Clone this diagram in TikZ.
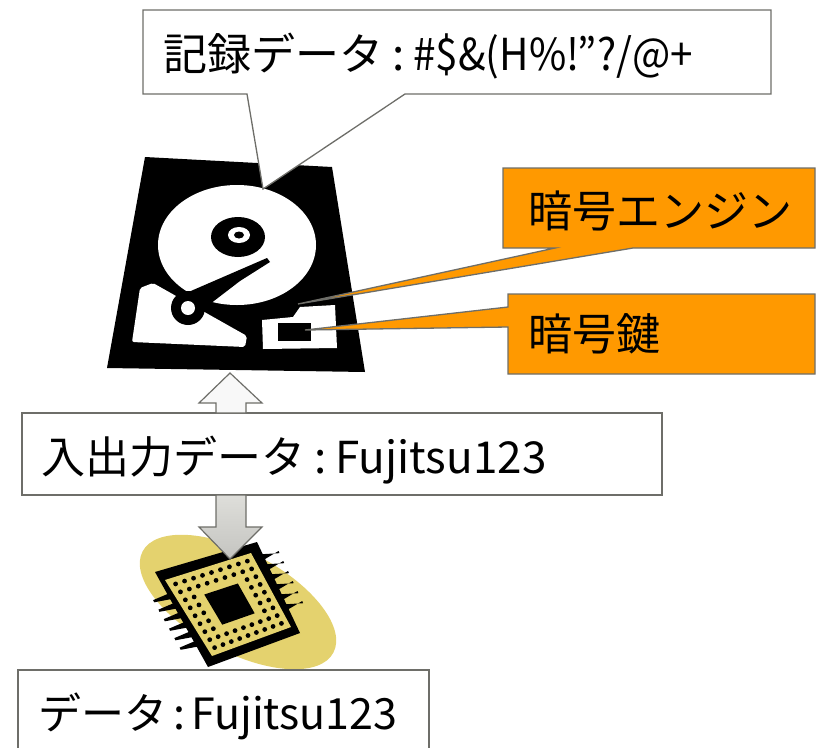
\documentclass[tikz,border=0pt]{standalone}
\usepackage{fontspec}
\setmainfont{Noto Sans CJK JP}
\newfontfamily\narrowlatin[FakeStretch=0.92]{Noto Sans CJK JP}
\usetikzlibrary{calc}
\definecolor{edgegray}{RGB}{110,110,105}
\definecolor{engorange}{RGB}{255,153,0}
\definecolor{chipgold}{RGB}{228,210,110}
\definecolor{arrowlight}{RGB}{222,222,218}
\definecolor{arrowdark}{RGB}{196,196,192}
\definecolor{arrowwhite}{RGB}{248,248,248}
\newcommand\kcolon{\kern9pt:\kern9pt}
\newcommand\scolon{\kern6pt:\kern6pt}
\begin{document}
\begin{tikzpicture}[x=1pt,y=-1pt,
  outline/.style={draw=edgegray,line width=1.3pt,line join=miter},
  txt/.style={anchor=base west,inner sep=0pt,font=\fontsize{44pt}{44pt}\selectfont},
  smalltxt/.style={txt,font=\fontsize{43pt}{43pt}\selectfont},
  blockarrow/.style={draw=edgegray,line width=1.2pt,line join=miter}]
\useasboundingbox (0,0) rectangle (816,747);
\clip (0,0) rectangle (816,747);

% ---------- hard disk ----------
\fill (145,157) -- (332,167) -- (365,372) -- (107,368) -- cycle;
\fill[white] (237,245) ellipse [x radius=79pt, y radius=60pt];
\fill[white,rounded corners=2pt] (140,288) -- (153,283) -- (247,336) -- (245,347) -- (132,342) -- cycle;
\fill[white] (262,320) -- (293,317) -- (300,307) -- (335,305) -- (337,348) -- (263,349) -- cycle;
\fill (278,323) rectangle (311,341);
% spindle
\fill (238,237) ellipse [x radius=27pt, y radius=20pt];
\fill[white] (239,235) ellipse [x radius=11pt, y radius=8pt];
\fill (239,235) ellipse [x radius=5pt, y radius=3.5pt];
% head arm
\fill (177,297) -- (237,271) -- (267,258) -- (270,262) -- (240,281) -- (210,304) -- (200,314) -- cycle;
\fill (188,308) circle[radius=17pt];
\fill[white] (188,308) circle[radius=7pt];

% ---------- chip ----------
\fill[chipgold, rotate around={-28:(238,602)}] (238,602) ellipse [x radius=108pt, y radius=50pt];
\coordinate (fA) at (155,572);
\coordinate (fB) at (257,542);
\coordinate (fC) at (300,633);
\coordinate (fD) at (208,667);
% pins
\foreach \t in {0.26,0.36,0.46,0.56,0.66,0.76}{
  \fill ($(fA)!\t!(fD)+(0.4,-3.4)$) -- ($(fA)!\t!(fD)+(3.4,2.2)$)
     -- ($(fA)!\t!(fD)+(-14.6,5.6)$) -- ($(fA)!\t!(fD)+(-15.6,3.4)$) -- cycle;
}
\foreach \t in {0.16,0.27,0.38,0.49,0.60,0.71}{
  \fill ($(fB)!\t!(fC)+(-3.2,-2.3)$) -- ($(fB)!\t!(fC)+(-0.6,3.5)$)
     -- ($(fB)!\t!(fC)+(14.7,-5.6)$) -- ($(fB)!\t!(fC)+(15.6,-3.4)$) -- cycle;
}
\fill (fA) -- (fB) -- (fC) -- (fD) -- cycle;
\coordinate (cA) at (165,580);
\coordinate (cB) at (251,553);
\coordinate (cC) at (291,627);
\coordinate (cD) at (212,656);
\fill[chipgold] (cA) -- (cB) -- (cC) -- (cD) -- cycle;
% contact pads, two rings
\foreach \i in {0,...,8}{
  \foreach \j in {0,...,8}{
    \pgfmathtruncatemacro{\ring}{min(min(\i,8-\i),min(\j,8-\j))}
    \ifnum\ring<2
      \pgfmathsetmacro{\u}{0.08+0.105*\i}
      \pgfmathsetmacro{\v}{0.08+0.105*\j}
      \fill ($ ($(cA)!\u!(cB)$)!\v!($(cD)!\u!(cC)$) $) circle[radius=2.4pt];
    \fi
  }
}
% die
\fill ($ ($(cA)!0.3!(cB)$)!0.3!($(cD)!0.3!(cC)$) $)
   -- ($ ($(cA)!0.7!(cB)$)!0.3!($(cD)!0.7!(cC)$) $)
   -- ($ ($(cA)!0.7!(cB)$)!0.7!($(cD)!0.7!(cC)$) $)
   -- ($ ($(cA)!0.3!(cB)$)!0.7!($(cD)!0.3!(cC)$) $) -- cycle;

% ---------- callouts ----------
\draw[outline,fill=white] (143,10) -- (771,10) -- (771,94) -- (405,94) -- (263,189) -- (247,94) -- (143,94) -- cycle;
\node[txt] (rec) at (163,70) {記録データ\kcolon{\narrowlatin\#\$\&(H\%!”?/@+}};

\draw[outline,fill=engorange] (503,168) -- (815,168) -- (815,248) -- (633,248) -- (298,304) -- (555,248) -- (503,248) -- cycle;
\node[txt] (eng) at (528,227) {暗号エンジン};

\draw[outline,fill=engorange] (508,294) -- (815,294) -- (815,374) -- (508,374) -- (508,327) -- (305,330) -- (508,307) -- cycle;
\node[txt] (key) at (528,350) {暗号鍵};

% ---------- data boxes ----------
\draw[outline,fill=white] (22,413) rectangle (662,495);
\node[txt] (io) at (41,473) {入出力データ\kcolon Fujitsu123};

\draw[outline,fill=white] (18,670) rectangle (429,760);
\node[smalltxt] (plain) at (38,729) {データ\scolon Fujitsu123};

% ---------- block arrows ----------
\path[blockarrow,fill=arrowwhite] (216,413) -- (216,403) -- (199,403) -- (230,373) -- (262,403) -- (246,403) -- (246,413) -- cycle;
\path[blockarrow,top color=arrowlight,bottom color=arrowdark] (216,495) -- (216,527) -- (199,527) -- (230,559) -- (262,527) -- (246,527) -- (246,495) -- cycle;
\end{tikzpicture}
\end{document}
